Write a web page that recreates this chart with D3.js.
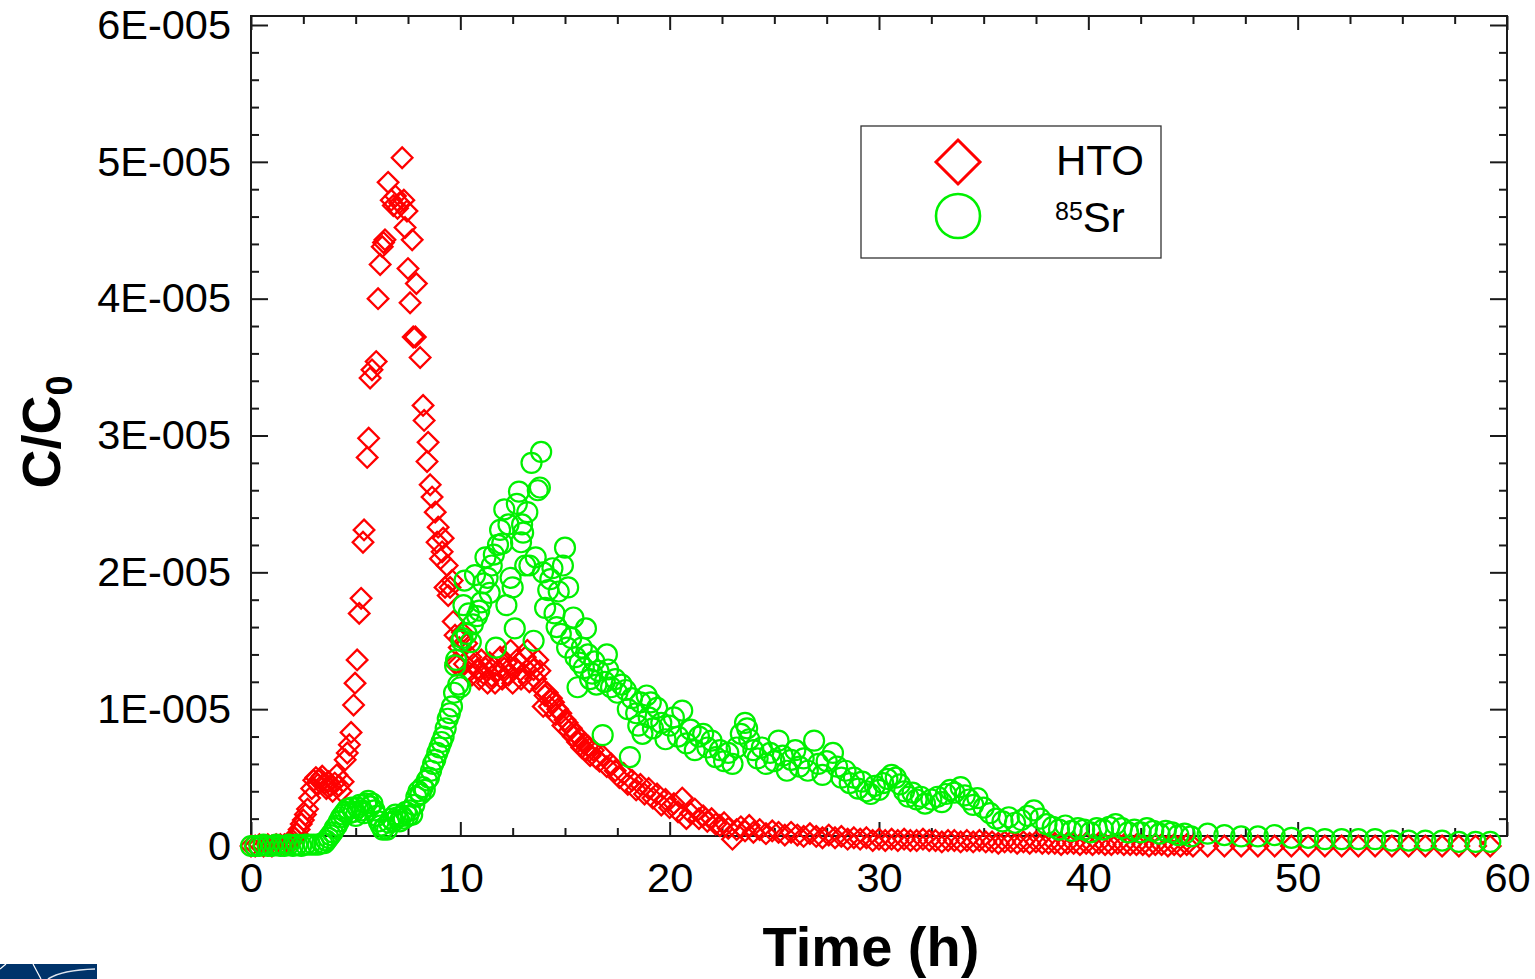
<!DOCTYPE html>
<html><head><meta charset="utf-8">
<script src="https://cdn.jsdelivr.net/npm/d3@7"></script>
<style>html,body{margin:0;padding:0;background:#fff;} svg{display:block;font-family:"Liberation Sans",Arial,sans-serif;}</style>
</head><body><svg id="chart" width="1535" height="979"></svg>
<script>
// Concentration values are in units of 1E-005 (C/C0)
const UNIT = 1e-5;
const xTickValues = [0, 10, 20, 30, 40, 50, 60];
const xTickLabels = ["0", "10", "20", "30", "40", "50", "60"];
const yTickValues = [0, 1, 2, 3, 4, 5, 6];
const yTickLabels = ["0", "1E-005", "2E-005", "3E-005", "4E-005", "5E-005", "6E-005"];
const xTitle = "Time (h)";
const seriesNames = ["HTO", "Sr"];

// HTO: [time (h), C/C0 in 1E-005]
const htoData = [
[0.0,0],[0.2,0],[0.4,0.01],[0.6,0],[0.8,0.01],[1.0,0],[1.2,0.01],[1.4,0.01],[1.6,0.01],[1.8,0.02],
[1.9,0.03],[2.0,0.04],[2.1,0.06],[2.2,0.09],[2.3,0.12],[2.4,0.16],[2.5,0.19],[2.6,0.23],[2.7,0.27],[2.8,0.35],
[2.9,0.42],[3.0,0.48],[3.1,0.5],[3.2,0.45],[3.3,0.49],[3.4,0.51],[3.5,0.46],[3.6,0.42],[3.7,0.47],[3.8,0.44],
[3.9,0.4],[4.0,0.46],[4.1,0.52],[4.2,0.44],[4.3,0.4],[4.4,0.47],[4.5,0.63],[4.6,0.68],[4.7,0.74],[4.78,0.83],
[4.9,1.03],[4.97,1.19],[5.07,1.36],[5.17,1.70],[5.26,1.81],[5.35,2.22],[5.4,2.31],[5.55,2.84],[5.62,2.98],[5.69,3.42],
[5.78,3.48],[5.98,3.54],[6.07,4.0],[6.17,4.25],[6.27,4.38],[6.33,4.41],[6.4,4.43],[6.55,4.85],[6.7,4.72],[6.8,4.68],
[6.9,4.75],[7.0,4.66],[7.1,4.70],[7.22,5.03],[7.3,4.72],[7.36,4.52],[7.45,4.64],[7.5,4.22],[7.6,3.97],[7.7,4.43],
[7.75,3.72],[7.85,3.72],[7.9,4.11],[8.08,3.57],[8.22,3.22],[8.27,3.11],[8.41,2.81],[8.46,2.95],[8.56,2.64],[8.65,2.55],
[8.8,2.44],[8.89,2.22],[8.94,2.33],[9.05,2.1],[9.13,2.15],[9.18,2.25],[9.27,1.89],[9.37,2.05],[9.42,1.83],[9.51,1.89],
[9.61,1.94],[9.66,1.64],[9.75,1.54],[9.8,1.34],[9.85,1.32],[9.95,1.45],[10.0,1.52],[10.1,1.56],[10.2,1.33],[10.3,1.48],
[10.4,1.27],[10.5,1.38],[10.55,1.25],[10.65,1.33],[10.8,1.29],[10.9,1.22],[11.0,1.36],[11.1,1.26],[11.2,1.30],[11.3,1.19],
[11.4,1.34],[11.5,1.24],[11.6,1.31],[11.66,1.19],[11.8,1.28],[11.9,1.38],[12.0,1.22],[12.1,1.30],[12.2,1.34],[12.3,1.25],
[12.4,1.43],[12.5,1.19],[12.6,1.30],[12.7,1.36],[12.8,1.34],[12.9,1.22],[13.0,1.26],[13.1,1.38],[13.2,1.43],[13.3,1.20],
[13.4,1.32],[13.5,1.29],[13.6,1.22],[13.7,1.36],[13.8,1.28],[13.9,1.15],[13.96,1.02],[14.05,1.10],[14.15,1.12],[14.25,1.02],
[14.35,1.08],[14.45,1.05],[14.55,0.96],[14.65,1.0],[14.8,0.97],[14.9,0.88],[15.0,0.92],[15.1,0.9],[15.2,0.84],[15.3,0.86],
[15.4,0.80],[15.5,0.82],[15.6,0.76],[15.7,0.79],[15.8,0.72],[15.9,0.75],[16.0,0.70],[16.1,0.73],[16.2,0.66],[16.35,0.70],
[16.5,0.64],[16.65,0.62],[16.8,0.66],[17.0,0.58],[17.2,0.6],[17.4,0.55],[17.6,0.5],[17.8,0.53],[18.0,0.45],[18.2,0.48],
[18.4,0.41],[18.6,0.45],[18.8,0.38],[19.0,0.42],[19.2,0.35],[19.4,0.38],[19.6,0.3],[19.8,0.34],[20.0,0.28],[20.2,0.31],
[20.4,0.25],[20.6,0.35],[20.8,0.2],[21.0,0.24],[21.2,0.27],[21.4,0.2],[21.6,0.22],[21.8,0.18],[22.0,0.2],[22.2,0.16],
[22.4,0.15],[22.6,0.17],[22.8,0.13],[23.0,0.05],[23.2,0.12],[23.4,0.14],[23.6,0.11],[23.8,0.15],[24.0,0.1],[24.3,0.12],
[24.6,0.09],[24.9,0.11],[25.2,0.1],[25.5,0.08],[25.8,0.1],[26.1,0.08],[26.4,0.07],[26.7,0.09],[27.0,0.07],[27.3,0.06],
[27.6,0.08],[27.9,0.06],[28.2,0.07],[28.5,0.05],[28.8,0.06],[29.1,0.05],[29.4,0.06],[29.7,0.04],[30.0,0.05],[30.3,0.04],
[30.6,0.05],[30.9,0.04],[31.2,0.05],[31.5,0.04],[31.8,0.04],[32.1,0.05],[32.4,0.04],[32.7,0.04],[33.0,0.03],[33.3,0.04],
[33.6,0.04],[33.9,0.03],[34.2,0.04],[34.5,0.03],[34.8,0.04],[35.1,0.03],[35.4,0.03],[35.7,0.02],[36.0,0.03],[36.3,0.03],
[36.6,0.02],[36.9,0.03],[37.2,0.02],[37.5,0.03],[37.8,0.02],[38.1,0.02],[38.4,0.02],[38.7,0.01],[39.0,0.02],[39.3,0.02],
[39.6,0.01],[39.9,0.02],[40.2,0.01],[40.5,0.02],[40.8,0.01],[41.1,0.01],[41.4,0.02],[41.7,0.01],[42.0,0.01],[42.3,0.01],
[42.6,0.01],[42.9,0.0],[43.2,0.01],[43.5,0.01],[43.8,0.0],[44.1,0.01],[44.4,0.0],[44.7,0.01],[45.0,0.0],
[45.7,0],[46.5,0],[47.3,0],[48.1,0],[48.9,0],[49.7,0],[50.5,0],[51.3,0],[52.1,0],[52.9,0],
[53.7,0],[54.5,0],[55.3,0],[56.1,0],[56.9,0],[57.7,0],[58.5,0],[59.2,0]
];

// 85Sr: [time (h), C/C0 in 1E-005]
const srData = [
[0.0,0],[0.2,0],[0.4,0],[0.6,0.01],[0.8,0],[1.0,0],[1.2,0.01],[1.4,0],[1.6,0],[1.8,0.01],
[2.0,0],[2.2,0.01],[2.4,0],[2.6,0.01],[2.8,0.01],[3.0,0.01],[3.2,0.01],[3.4,0.02],[3.5,0.02],[3.6,0.04],
[3.7,0.06],[3.8,0.08],[3.9,0.1],[4.0,0.13],[4.1,0.15],[4.2,0.18],[4.3,0.21],[4.4,0.23],[4.5,0.25],[4.6,0.27],
[4.7,0.24],[4.8,0.28],[4.9,0.25],[5.0,0.22],[5.1,0.28],[5.2,0.3],[5.3,0.26],[5.4,0.24],[5.5,0.31],[5.6,0.33],
[5.7,0.29],[5.8,0.31],[5.9,0.26],[6.0,0.22],[6.1,0.18],[6.2,0.15],[6.3,0.12],[6.4,0.14],[6.5,0.12],[6.6,0.17],
[6.7,0.2],[6.8,0.18],[6.9,0.23],[7.0,0.21],[7.1,0.18],[7.2,0.22],[7.3,0.2],[7.4,0.25],[7.5,0.22],[7.6,0.26],
[7.7,0.23],[7.8,0.3],[7.9,0.36],[8.0,0.4],[8.1,0.38],[8.2,0.43],[8.3,0.41],[8.4,0.48],[8.5,0.5],[8.6,0.55],
[8.7,0.6],[8.8,0.63],[8.9,0.68],[9.0,0.72],[9.1,0.76],[9.2,0.8],[9.3,0.86],[9.4,0.93],[9.5,0.97],[9.6,1.02],
[9.7,1.12],[9.75,1.32],[9.8,1.36],[9.9,1.18],[10.0,1.16],[10.05,1.5],[10.1,1.52],[10.15,1.76],[10.2,1.94],[10.3,1.55],
[10.4,1.7],[10.5,1.49],[10.6,1.62],[10.7,1.98],[10.8,1.68],[10.9,1.72],[11.0,1.78],[11.1,1.92],[11.2,2.11],[11.3,1.96],
[11.4,1.85],[11.5,2.05],[11.6,2.13],[11.7,1.45],[11.8,2.2],[11.9,2.31],[12.0,2.21],[12.1,2.46],[12.2,1.76],[12.3,2.35],
[12.4,1.96],[12.5,1.89],[12.6,1.59],[12.7,2.5],[12.8,2.59],[12.9,2.22],[12.95,2.35],[13.0,2.29],[13.1,2.05],[13.2,2.44],
[13.3,2.05],[13.4,2.80],[13.5,1.5],[13.6,2.11],[13.7,2.6],[13.8,2.62],[13.86,2.88],[13.95,2.0],[14.05,1.74],[14.2,1.87],
[14.3,1.95],[14.4,2.03],[14.5,1.7],[14.6,1.6],[14.7,1.86],[14.8,1.55],[14.9,2.05],[15.0,2.18],[15.1,1.45],[15.15,1.89],
[15.3,1.52],[15.4,1.67],[15.5,1.38],[15.6,1.16],[15.7,1.34],[15.8,1.45],[15.9,1.3],[16.0,1.59],[16.1,1.4],[16.2,1.22],
[16.3,1.26],[16.4,1.35],[16.5,1.18],[16.6,1.28],[16.8,0.81],[16.9,1.2],[17.0,1.40],[17.06,1.29],[17.2,1.16],[17.4,1.22],
[17.5,1.12],[17.7,1.18],[17.9,1.14],[18.0,1.0],[18.1,0.65],[18.2,1.08],[18.4,0.97],[18.5,0.88],[18.6,1.05],[18.7,0.82],
[18.9,1.1],[19.0,0.94],[19.1,1.05],[19.2,0.86],[19.4,1.01],[19.6,0.9],[19.8,0.78],[20.0,0.88],[20.2,0.94],[20.4,0.8],
[20.6,0.99],[20.8,0.75],[21.0,0.85],[21.2,0.7],[21.4,0.8],[21.6,0.82],[21.8,0.72],[22.0,0.77],[22.2,0.65],[22.4,0.7],
[22.6,0.62],[22.8,0.68],[23.0,0.6],[23.2,0.72],[23.4,0.82],[23.6,0.9],[23.7,0.86],[23.8,0.78],[24.0,0.7],[24.2,0.64],
[24.4,0.72],[24.6,0.6],[24.8,0.68],[25.0,0.62],[25.2,0.77],[25.4,0.66],[25.6,0.55],[25.8,0.63],[26.0,0.7],[26.2,0.58],
[26.4,0.64],[26.6,0.55],[26.9,0.77],[27.1,0.6],[27.3,0.52],[27.5,0.62],[27.8,0.68],[28.0,0.58],[28.2,0.5],[28.4,0.55],
[28.6,0.46],[28.8,0.5],[29.0,0.42],[29.2,0.47],[29.4,0.4],[29.6,0.38],[29.8,0.44],[30.0,0.41],[30.2,0.46],[30.4,0.49],
[30.6,0.52],[30.8,0.5],[31.0,0.45],[31.2,0.4],[31.4,0.36],[31.6,0.39],[31.8,0.34],[32.0,0.36],[32.2,0.31],[32.5,0.34],
[32.8,0.36],[33.0,0.32],[33.2,0.38],[33.4,0.41],[33.6,0.39],[33.9,0.43],[34.1,0.37],[34.3,0.34],[34.5,0.3],[34.7,0.35],
[35.0,0.28],[35.3,0.24],[35.6,0.2],[35.9,0.18],[36.2,0.21],[36.5,0.17],[36.8,0.19],[37.1,0.22],[37.4,0.26],[37.7,0.2],
[38.0,0.16],[38.3,0.14],[38.6,0.12],[38.9,0.15],[39.2,0.11],[39.5,0.13],[39.8,0.12],[40.1,0.1],[40.4,0.13],[40.7,0.12],
[41.0,0.14],[41.3,0.16],[41.6,0.13],[41.9,0.1],[42.2,0.12],[42.5,0.1],[42.8,0.13],[43.1,0.11],[43.4,0.09],[43.7,0.11],
[44.0,0.1],[44.3,0.08],[44.6,0.09],[44.9,0.07],
[45.7,0.09],[46.5,0.08],[47.3,0.07],[48.1,0.07],[48.9,0.08],[49.7,0.06],[50.5,0.06],[51.3,0.05],[52.1,0.05],[52.9,0.05],
[53.7,0.05],[54.5,0.04],[55.3,0.04],[56.1,0.04],[56.9,0.04],[57.7,0.03],[58.5,0.03],[59.2,0.03]
];

// ---------- layout ----------
const W = 1535, H = 979;
const frameLeft = 251, frameRight = 1507, frameTop = 16, frameBottom = 836;
const axisColor = "#1a1a1a";
const fontFam = '"Liberation Sans", Arial, sans-serif';
const redColor = "#ff0000", greenColor = "#00f000";

const svg = d3.select("#chart");
svg.append("rect").attr("width", W).attr("height", H).attr("fill", "#fff");

const x = d3.scaleLinear().domain([0, 60]).range([frameLeft, frameRight]);
const y = d3.scaleLinear().domain([0, 6]).range([846, 25]);

// frame
svg.append("rect").attr("x", frameLeft).attr("y", frameTop)
  .attr("width", frameRight - frameLeft).attr("height", frameBottom - frameTop)
  .attr("fill", "none").attr("stroke", axisColor).attr("stroke-width", 2);

// ticks
const xMinor = d3.range(0, 60.001, 2.5).filter(v => Math.abs(v % 10) > 1e-9);
const yMinorAll = d3.range(0, 6.001, 0.2).filter(v => Math.abs(v - Math.round(v)) > 1e-9);
const inFrameY = v => y(v) <= frameBottom - 1 && y(v) >= frameTop;
const yMajorIn = yTickValues.filter(inFrameY);
const yMinorIn = yMinorAll.filter(inFrameY);

function tickAxis(gen, transform) {
  const a = svg.append("g").attr("transform", transform).call(gen);
  a.select(".domain").remove();
  a.selectAll("text").remove();
  a.selectAll("line").attr("stroke", axisColor).attr("stroke-width", 2);
}
tickAxis(d3.axisBottom(x).tickValues(xTickValues).tickSize(-14), `translate(0,${frameBottom})`);
tickAxis(d3.axisBottom(x).tickValues(xMinor).tickSize(-8), `translate(0,${frameBottom})`);
tickAxis(d3.axisTop(x).tickValues(xTickValues).tickSize(-14), `translate(0,${frameTop})`);
tickAxis(d3.axisTop(x).tickValues(xMinor).tickSize(-8), `translate(0,${frameTop})`);
tickAxis(d3.axisLeft(y).tickValues(yMajorIn).tickSize(-17), `translate(${frameLeft},0)`);
tickAxis(d3.axisLeft(y).tickValues(yMinorIn).tickSize(-8), `translate(${frameLeft},0)`);
tickAxis(d3.axisRight(y).tickValues(yMajorIn).tickSize(-17), `translate(${frameRight},0)`);
tickAxis(d3.axisRight(y).tickValues(yMinorIn).tickSize(-8), `translate(${frameRight},0)`);

// tick labels
const xl = svg.append("g").attr("transform", `translate(0,${frameBottom})`)
  .call(d3.axisBottom(x).tickValues(xTickValues).tickFormat((d, i) => xTickLabels[i]).tickSize(0).tickPadding(27));
xl.select(".domain").remove();
xl.selectAll("text").attr("font-size", 41.5).attr("font-family", fontFam).attr("fill", "#000");

const yl = svg.append("g").attr("transform", `translate(${frameLeft},0)`)
  .call(d3.axisLeft(y).tickValues(yTickValues).tickFormat((d, i) => yTickLabels[i]).tickSize(0).tickPadding(20));
yl.select(".domain").remove();
yl.selectAll("text").attr("font-size", 41.5).attr("font-family", fontFam).attr("fill", "#000");

// axis titles
svg.append("text").attr("x", 871).attr("y", 966).attr("text-anchor", "middle")
  .attr("font-family", fontFam).attr("font-weight", "bold").attr("font-size", 56).attr("fill", "#000")
  .text(xTitle);
const yt = svg.append("text").attr("transform", "translate(60,432) rotate(-90)").attr("text-anchor", "middle")
  .attr("font-family", fontFam).attr("font-weight", "bold").attr("font-size", 54).attr("fill", "#000");
yt.append("tspan").text("C/C");
yt.append("tspan").attr("font-size", 36).attr("dy", 12).text("0");

// markers
const diamondPath = r => `M0,${-r}L${r},0L0,${r}L${-r},0Z`;
svg.append("g").selectAll("path").data(htoData).join("path")
  .attr("d", diamondPath(10.3))
  .attr("transform", d => `translate(${x(d[0])},${y(d[1])})`)
  .attr("fill", "none").attr("stroke", redColor).attr("stroke-width", 2.3);
svg.append("g").selectAll("circle").data(srData).join("circle")
  .attr("cx", d => x(d[0])).attr("cy", d => y(d[1])).attr("r", 10)
  .attr("fill", "none").attr("stroke", greenColor).attr("stroke-width", 2.2);

// legend
const lg = svg.append("g");
lg.append("rect").attr("x", 861).attr("y", 126).attr("width", 300).attr("height", 132)
  .attr("fill", "#fff").attr("stroke", "#333").attr("stroke-width", 1.3);
lg.append("path").attr("d", diamondPath(22)).attr("transform", "translate(958,162)")
  .attr("fill", "none").attr("stroke", redColor).attr("stroke-width", 3);
lg.append("circle").attr("cx", 958).attr("cy", 216).attr("r", 22)
  .attr("fill", "none").attr("stroke", greenColor).attr("stroke-width", 2.6);
lg.append("text").attr("x", 1056).attr("y", 175).attr("font-family", fontFam).attr("font-size", 42)
  .attr("fill", "#000").text(seriesNames[0]);
const st = lg.append("text").attr("x", 1055).attr("y", 232).attr("font-family", fontFam).attr("fill", "#000");
st.append("tspan").attr("font-size", 25).attr("dy", -12).text("85");
st.append("tspan").attr("font-size", 42).attr("dy", 12).text(seriesNames[1]);

// logo fragment at bottom-left
const logo = svg.append("g");
logo.append("rect").attr("x", 0).attr("y", 964).attr("width", 97).attr("height", 15).attr("fill", "#00336a");
logo.append("path").attr("d", "M0,969 L6,964").attr("stroke", "#fff").attr("stroke-width", 1.2).attr("fill", "none");
logo.append("path").attr("d", "M33,964 L41,979").attr("stroke", "#fff").attr("stroke-width", 1.2).attr("fill", "none");
logo.append("path").attr("d", "M48,979 Q62,970 95,969").attr("stroke", "#dfe6ef").attr("stroke-width", 1.6).attr("fill", "none");
</script></body></html>
